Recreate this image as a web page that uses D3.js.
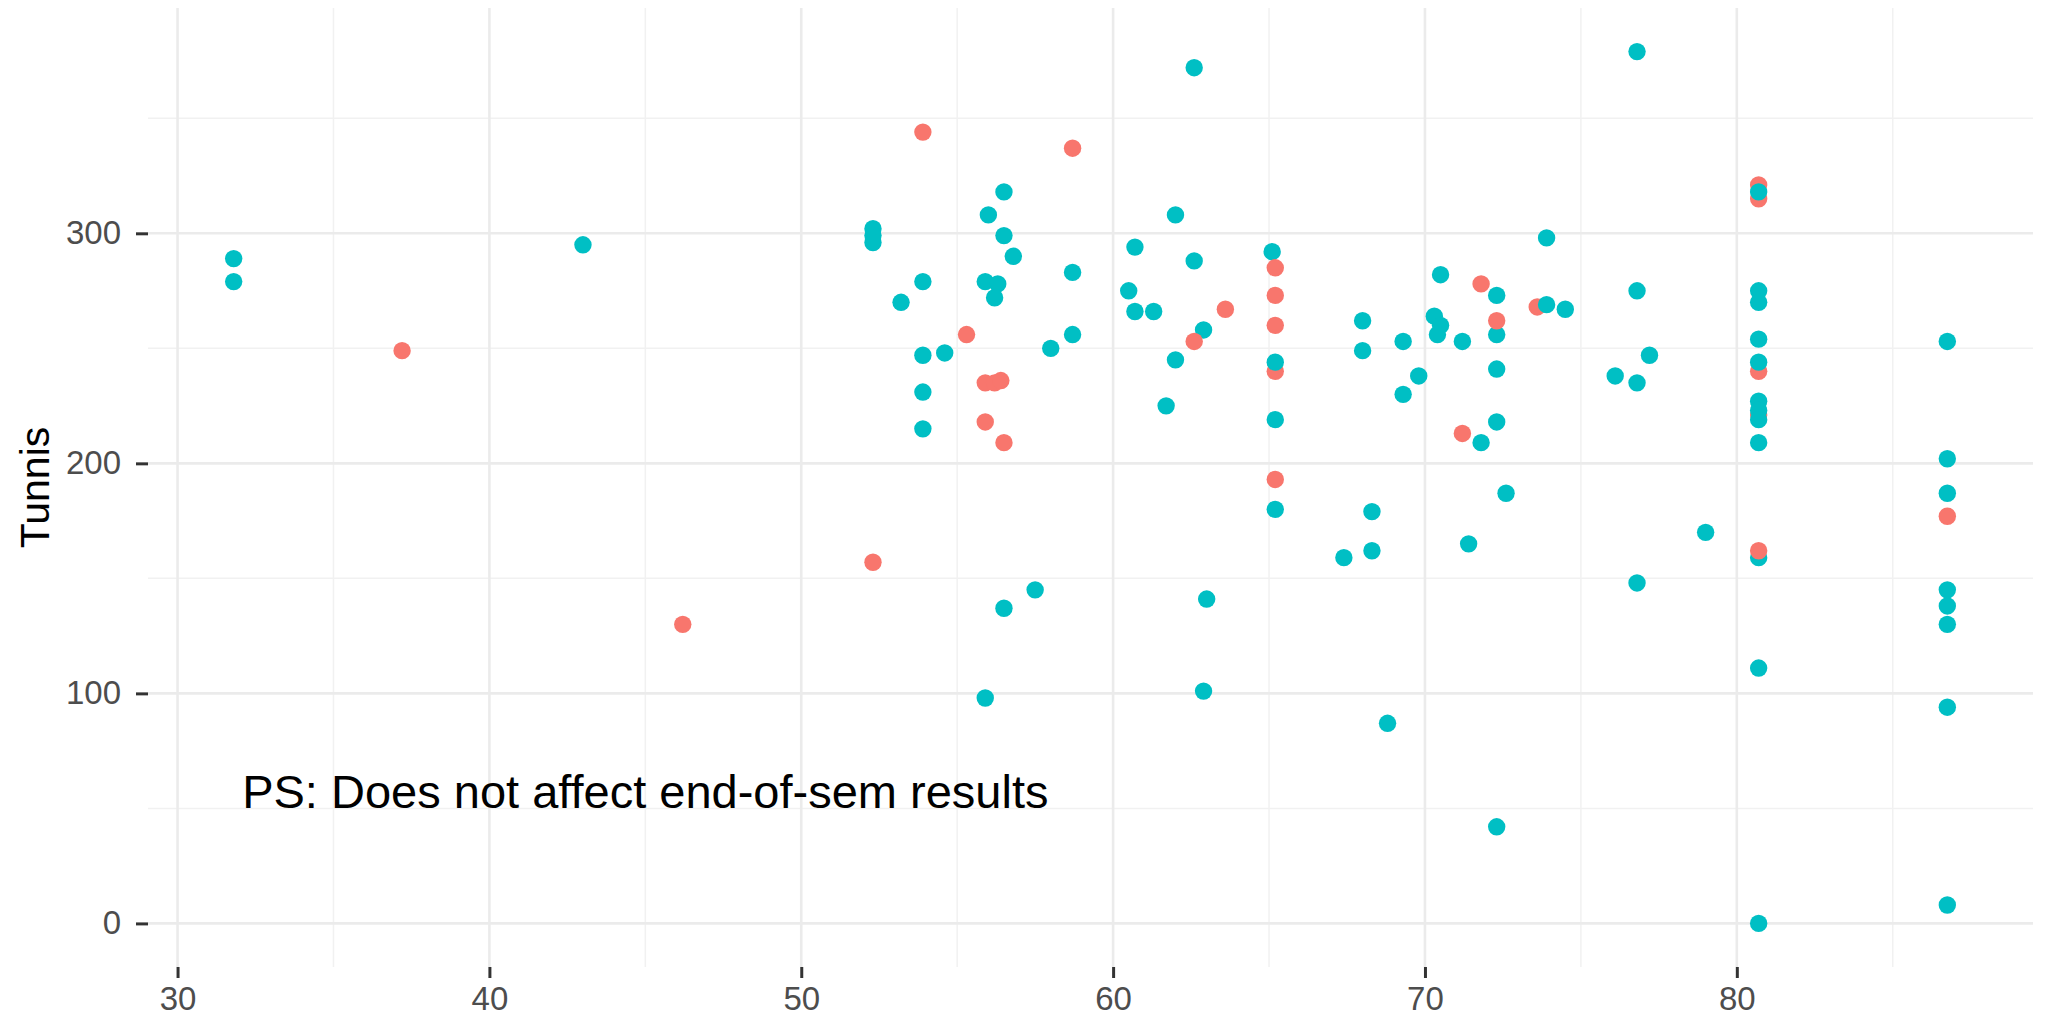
<!DOCTYPE html>
<html>
<head>
<meta charset="utf-8">
<script src="https://cdn.jsdelivr.net/npm/d3@7"></script>
<style>
  html, body { margin: 0; padding: 0; background: #ffffff; }
  svg { display: block; }
</style>
</head>
<body>
<svg id="chart" width="2048" height="1016"></svg>
<script>
// ---- data ----
const score = [
  31.8, 31.8, 37.2, 43.0, 46.2, 52.3, 52.3, 52.3, 52.3, 53.2,
  53.9, 53.9, 53.9, 53.9, 53.9, 54.6, 55.3, 55.9, 55.9, 56.2,
  56.4, 55.9, 56.0, 55.9, 56.3, 56.2, 56.5, 56.5, 56.5, 56.5,
  56.8, 57.5, 58.0, 58.7, 58.7, 58.7, 60.5, 60.7, 60.7, 61.3,
  61.7, 62.0, 62.0, 62.6, 62.6, 62.9, 62.6, 63.0, 62.9, 63.6,
  65.1, 65.2, 65.2, 65.2, 65.2, 65.2, 65.2, 65.2, 65.2, 67.4,
  68.0, 68.0, 68.3, 68.3, 68.8, 69.3, 69.3, 69.8, 70.3, 70.5,
  70.4, 70.5, 71.2, 71.2, 71.4, 71.8, 71.8, 72.3, 72.3, 72.3,
  72.3, 72.3, 72.3, 72.6, 73.6, 73.9, 73.9, 74.5, 76.1, 76.8,
  76.8, 76.8, 76.8, 77.2, 79.0, 80.7, 80.7, 80.7, 80.7, 80.7,
  80.7, 80.7, 80.7, 80.7, 80.7, 80.7, 80.7, 80.7, 80.7, 80.7,
  80.7, 80.7, 86.75, 86.75, 86.75, 86.75, 86.75, 86.75, 86.75, 86.75,
  86.75
];
const tunnis = [
  289, 279, 249, 295, 130, 157, 302, 299, 296, 270,
  279, 247, 231, 215, 344, 248, 256, 98, 235, 235,
  236, 218, 308, 279, 278, 272, 318, 299, 137, 209,
  290, 145, 250, 337, 283, 256, 275, 294, 266, 266,
  225, 308, 245, 372, 288, 258, 253, 141, 101, 267,
  292, 285, 273, 260, 240, 244, 219, 193, 180, 159,
  262, 249, 179, 162, 87, 253, 230, 238, 264, 260,
  256, 282, 253, 213, 165, 278, 209, 273, 256, 262,
  241, 218, 42, 187, 268, 269, 298, 267, 238, 379,
  275, 235, 148, 247, 170, 321, 315, 318, 275, 270,
  254, 240, 244, 221, 227, 223, 219, 209, 159, 162,
  111, 0, 253, 202, 187, 177, 145, 138, 130, 94,
  8
];
const group = [
  "TRUE", "TRUE", "FALSE", "TRUE", "FALSE", "FALSE", "TRUE", "TRUE", "TRUE", "TRUE",
  "TRUE", "TRUE", "TRUE", "TRUE", "FALSE", "TRUE", "FALSE", "TRUE", "FALSE", "FALSE",
  "FALSE", "FALSE", "TRUE", "TRUE", "TRUE", "TRUE", "TRUE", "TRUE", "TRUE", "FALSE",
  "TRUE", "TRUE", "TRUE", "FALSE", "TRUE", "TRUE", "TRUE", "TRUE", "TRUE", "TRUE",
  "TRUE", "TRUE", "TRUE", "TRUE", "TRUE", "TRUE", "FALSE", "TRUE", "TRUE", "FALSE",
  "TRUE", "FALSE", "FALSE", "FALSE", "FALSE", "TRUE", "TRUE", "FALSE", "TRUE", "TRUE",
  "TRUE", "TRUE", "TRUE", "TRUE", "TRUE", "TRUE", "TRUE", "TRUE", "TRUE", "TRUE",
  "TRUE", "TRUE", "TRUE", "FALSE", "TRUE", "FALSE", "TRUE", "TRUE", "TRUE", "FALSE",
  "TRUE", "TRUE", "TRUE", "TRUE", "FALSE", "TRUE", "TRUE", "TRUE", "TRUE", "TRUE",
  "TRUE", "TRUE", "TRUE", "TRUE", "TRUE", "FALSE", "FALSE", "TRUE", "TRUE", "TRUE",
  "TRUE", "FALSE", "TRUE", "FALSE", "TRUE", "TRUE", "TRUE", "TRUE", "TRUE", "FALSE",
  "TRUE", "TRUE", "TRUE", "TRUE", "TRUE", "FALSE", "TRUE", "TRUE", "TRUE", "TRUE",
  "TRUE"
];
const groupNames = ["FALSE", "TRUE"];
const xTicks = [30, 40, 50, 60, 70, 80];
const xMinorTicks = [35, 45, 55, 65, 75, 85];
const yTicks = [0, 100, 200, 300];
const yMinorTicks = [50, 150, 250, 350];
const yTitle = "Tunnis";
const noteText = "PS: Does not affect end-of-sem results";
const noteAt = [45, 57.5]; // data units

// ---- layout ----
const W = 2048, H = 1016;
const margin = { left: 148, right: 15, top: 8, bottom: 49 };
const iw = W - margin.left - margin.right;
const ih = H - margin.top - margin.bottom;
const FONT = "'Liberation Sans', Arial, Helvetica, sans-serif";

const points = score.map((s, i) => ({ x: s, y: tunnis[i], g: group[i] }));

function expand(ext, f) {
  const d = ext[1] - ext[0];
  return [ext[0] - d * f, ext[1] + d * f];
}

const x = d3.scaleLinear().domain(expand(d3.extent(score), 0.05)).range([0, iw]);
const y = d3.scaleLinear().domain(expand(d3.extent(tunnis), 0.05)).range([ih, 0]);
const color = d3.scaleOrdinal().domain(groupNames).range(["#F8766D", "#00BFC4"]);

const svg = d3.select("#chart");
svg.append("rect").attr("width", W).attr("height", H).attr("fill", "#ffffff");
const g = svg.append("g").attr("transform", `translate(${margin.left},${margin.top})`);

// grid: minor then major
const grid = g.append("g");
grid.selectAll("line.vmin").data(xMinorTicks).join("line")
  .attr("x1", d => x(d)).attr("x2", d => x(d)).attr("y1", 0).attr("y2", ih)
  .attr("stroke", "#F1F1F1").attr("stroke-width", 1.5);
grid.selectAll("line.hmin").data(yMinorTicks).join("line")
  .attr("x1", 0).attr("x2", iw).attr("y1", d => y(d)).attr("y2", d => y(d))
  .attr("stroke", "#F1F1F1").attr("stroke-width", 1.5);
grid.selectAll("line.vmaj").data(xTicks).join("line")
  .attr("x1", d => x(d)).attr("x2", d => x(d)).attr("y1", 0).attr("y2", ih)
  .attr("stroke", "#EBEBEB").attr("stroke-width", 2.6);
grid.selectAll("line.hmaj").data(yTicks).join("line")
  .attr("x1", 0).attr("x2", iw).attr("y1", d => y(d)).attr("y2", d => y(d))
  .attr("stroke", "#EBEBEB").attr("stroke-width", 2.6);

// axes
const xAxis = g.append("g").attr("transform", `translate(0,${ih})`)
  .call(d3.axisBottom(x).tickValues(xTicks).tickSize(11).tickPadding(9).tickFormat(d3.format("d")));
const yAxis = g.append("g")
  .call(d3.axisLeft(y).tickValues(yTicks).tickSize(12).tickPadding(15).tickFormat(d3.format("d")));
[xAxis, yAxis].forEach(a => {
  a.select(".domain").remove();
  a.selectAll(".tick line").attr("stroke", "#333333").attr("stroke-width", 3);
  a.selectAll(".tick text").attr("fill", "#4D4D4D")
    .style("font-family", FONT).style("font-size", "33px");
});

// points
g.append("g").selectAll("circle").data(points).join("circle")
  .attr("cx", d => x(d.x)).attr("cy", d => y(d.y)).attr("r", 8.7)
  .attr("fill", d => color(d.g));

// annotation
g.append("text")
  .attr("x", x(noteAt[0])).attr("y", y(noteAt[1]))
  .attr("text-anchor", "middle").attr("dominant-baseline", "central")
  .style("font-family", FONT).style("font-size", "47px").attr("fill", "#000000")
  .text(noteText);

// y title
svg.append("text")
  .attr("transform", `translate(49,${margin.top + ih / 2}) rotate(-90)`)
  .attr("text-anchor", "middle")
  .style("font-family", FONT).style("font-size", "41px").attr("fill", "#000000")
  .text(yTitle);
</script>
</body>
</html>
